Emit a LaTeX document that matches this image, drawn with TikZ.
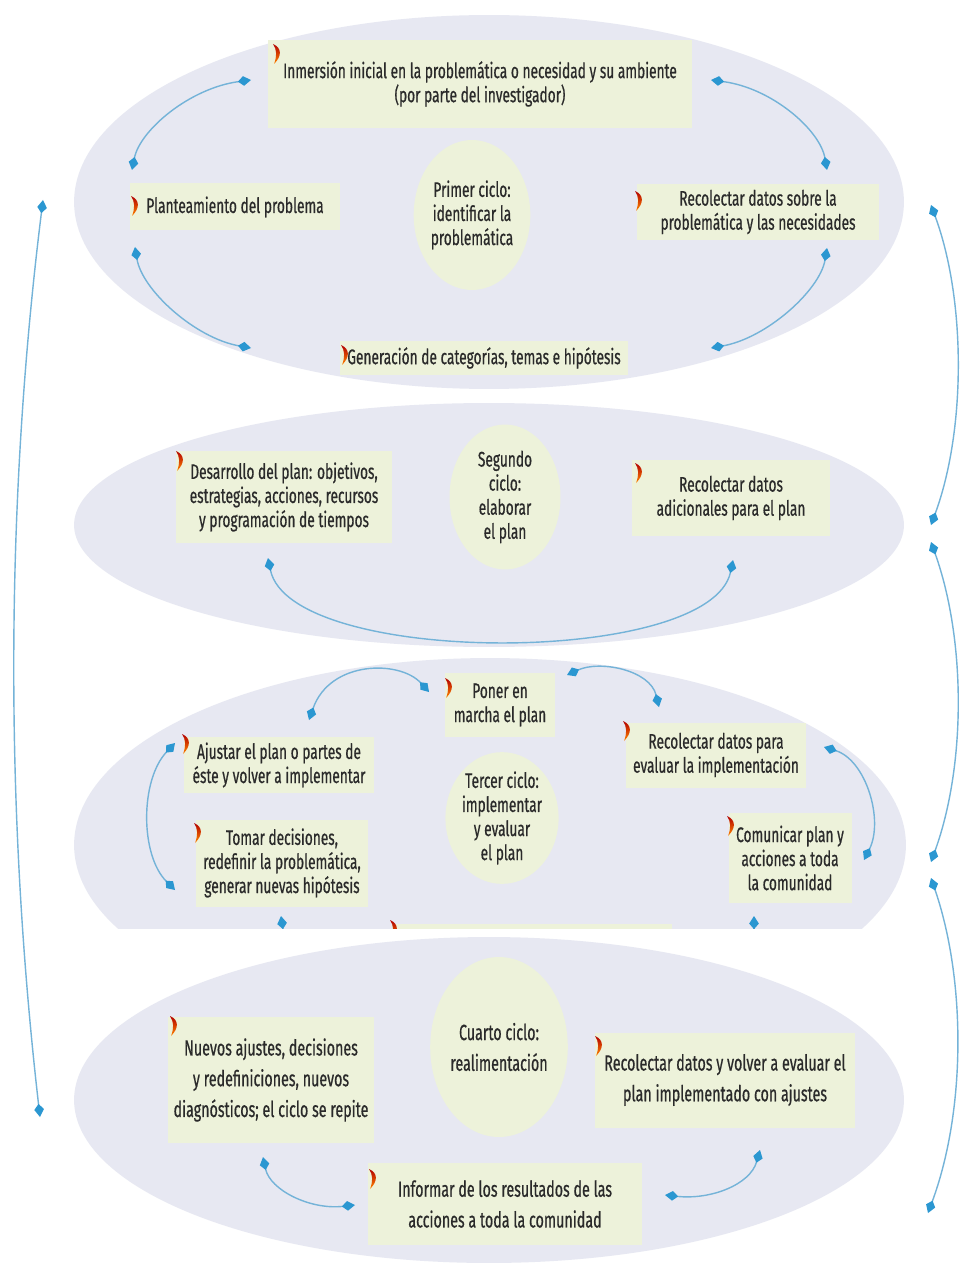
\documentclass[tikz,border=0pt]{standalone}
\usepackage{fontspec}
\setmainfont{Fira Sans}[FakeStretch=0.65,FakeBold=0.6]
\usetikzlibrary{arrows.meta,shapes.geometric}

\definecolor{cyclebg}{HTML}{E7E8F2}
\definecolor{boxbg}{HTML}{EDF2DA}
\definecolor{linkline}{HTML}{74B3D8}
\definecolor{linktip}{HTML}{2B97D1}
\definecolor{txt}{HTML}{2A2A2A}

\tikzset{
	ring/.style={ellipse,fill=cyclebg,inner sep=0pt},
	stage/.style={fill=boxbg,text=txt,align=center,inner sep=0pt,font=\fontsize{12}{13.7}\selectfont},
	stagebig/.style={stage,font=\fontsize{12.5}{17.5}\selectfont},
	hub/.style={stage,ellipse},
	hubbig/.style={stagebig,ellipse},
	tipk/.tip={Kite[length=7.5pt,width=5.5pt,inset=3.2pt,color=linktip]},
	link/.style={draw=linkline,line width=0.8pt,tipk-tipk},
	linkend/.style={draw=linkline,line width=0.8pt,-tipk},
	swoosh/.pic={
		\shade[top color=red!70!black,bottom color=orange!95!yellow]
			(0,0) .. controls (9,4) and (9,12) .. (1,20) .. controls (4,12) and (4,6) .. (0,0);
	},
}

\begin{document}
\begin{tikzpicture}[x=0.02cm,y=-0.02cm]
	\path[fill=white,use as bounding box] (0,0) rectangle (961,1266);
	%
	% the four cycles
	\node[ring,minimum width=16.6cm,minimum height=7.48cm] (c1) at (489,202) {};
	\node[ring,minimum width=16.6cm,minimum height=4.88cm] (c2) at (489,525) {};
	\begin{scope}
		\clip (0,0) rectangle (961,928);
		\node[ring,minimum width=16.64cm,minimum height=7.48cm] (c3) at (490,845) {};
		\node[stage,minimum width=5.6cm,minimum height=1.04cm] (cut) at (532,950) {};
		\pic at (390,920) {swoosh};
		\coordinate (s1a) at (286,950);
		\coordinate (s1b) at (281,916);
		\coordinate (s2a) at (754,950);
		\coordinate (s2b) at (754,916);
		\draw[linkend] (s1a) -- (s1b);
		\draw[linkend] (s2a) -- (s2b);
	\end{scope}
	\node[ring,minimum width=16.6cm,minimum height=6.52cm] (c4) at (489,1100) {};
	%
	% first cycle
	\node[stage,minimum width=8.5cm,minimum height=1.76cm] (inm) at (480,84)
		{Inmersión inicial en la problemática o necesidad y su ambiente\\(por parte del investigador)};
	\node[stage,minimum width=4.22cm,minimum height=0.94cm] (plan) at (235,207)
		{Planteamiento del problema};
	\node[stage,minimum width=4.84cm,minimum height=1.14cm] (rec1) at (758,212)
		{Recolectar datos sobre la\\problemática y las necesidades};
	\node[stage,minimum width=5.76cm,minimum height=0.7cm] (gen) at (484,358)
		{Generación de categorías, temas e hipótesis};
	\node[hub,minimum width=2.24cm,minimum height=3cm] (h1) at (472,215)
		{Primer ciclo:\\identificar la\\problemática};
	%
	% second cycle
	\node[stage,minimum width=4.34cm,minimum height=1.86cm] (des) at (284,497)
		{Desarrollo del plan: objetivos,\\estrategias, acciones, recursos\\y programación de tiempos};
	\node[hub,minimum width=2.22cm,minimum height=2.9cm] (h2) at (505,497)
		{Segundo\\ciclo:\\elaborar\\el plan};
	\node[stage,minimum width=3.98cm,minimum height=1.54cm] (rec2) at (731,498)
		{Recolectar datos\\adicionales para el plan};
	%
	% third cycle
	\node[stage,minimum width=2.22cm,minimum height=1.28cm] (pon) at (500,705)
		{Poner en\\marcha el plan};
	\node[stage,minimum width=3.8cm,minimum height=1.12cm] (aju) at (279,765)
		{Ajustar el plan o partes de\\éste y volver a implementar};
	\node[stage,minimum width=3.44cm,minimum height=1.74cm] (tom) at (282,863)
		{Tomar decisiones,\\redefinir la problemática,\\generar nuevas hipótesis};
	\node[hub,minimum width=2.1cm,minimum height=2.6cm] (h3) at (502,818)
		{Tercer ciclo:\\implementar\\y evaluar\\el plan};
	\node[stage,minimum width=3.62cm,minimum height=1.3cm] (rec3) at (716,755)
		{Recolectar datos para\\evaluar la implementación};
	\node[stage,minimum width=2.46cm,minimum height=1.8cm] (com) at (790,858)
		{Comunicar plan y\\acciones a toda\\la comunidad};
	%
	% fourth cycle
	\node[hubbig,minimum width=2.08cm,minimum height=3.6cm] (h4) at (499,1047)
		{Cuarto ciclo:\\realimentación};
	\node[stagebig,minimum width=4.12cm,minimum height=2.52cm] (nue) at (271,1080)
		{Nuevos ajustes, decisiones\\y redefiniciones, nuevos\\diagnósticos; el ciclo se repite};
	\node[stagebig,minimum width=5.22cm,minimum height=1.9cm] (rec4) at (725,1080)
		{Recolectar datos y volver a evaluar el\\plan implementado con ajustes};
	\node[stagebig,minimum width=5.5cm,minimum height=1.64cm] (inf) at (505,1204)
		{Informar de los resultados de las\\acciones a toda la comunidad};
	%
	% markers
	\foreach \mx/\my in {273/44,131/196,635/191,341/345,176/451,635/463,445/678,182/734,
		194/823,623/721,727/816,170/1016,595/1036,369/1169}
		\pic at (\mx,\my) {swoosh};
	%
	% arrow ends
	\coordinate (a1) at (251,80);
	\coordinate (a2) at (132,170);
	\coordinate (a3) at (135,247);
	\coordinate (a4) at (251,348);
	\coordinate (a5) at (711,80);
	\coordinate (a6) at (827,170);
	\coordinate (a7) at (827,248);
	\coordinate (a8) at (711,348);
	\coordinate (b1) at (268,558);
	\coordinate (b2) at (733,560);
	\coordinate (d1) at (429,692);
	\coordinate (d2) at (309,720);
	\coordinate (d3) at (567,675);
	\coordinate (d4) at (659,707);
	\coordinate (d5) at (175,743);
	\coordinate (d6) at (175,890);
	\coordinate (d7) at (824,747);
	\coordinate (d8) at (864,860);
	\coordinate (e1) at (263,1157);
	\coordinate (e2) at (355,1205);
	\coordinate (e3) at (760,1150);
	\coordinate (e4) at (665,1195);
	\coordinate (o1) at (43,200);
	\coordinate (o2) at (40,1117);
	\coordinate (o3) at (931,205);
	\coordinate (o4) at (931,525);
	\coordinate (o5) at (931,542);
	\coordinate (o6) at (931,862);
	\coordinate (o7) at (931,878);
	\coordinate (o8) at (928,1213);
	%
	\draw[link] (a1) .. controls (190,88) and (140,130) .. (a2);
	\draw[link] (a3) .. controls (142,290) and (195,338) .. (a4);
	\draw[link] (a5) .. controls (772,88) and (820,130) .. (a6);
	\draw[link] (a7) .. controls (820,290) and (767,338) .. (a8);
	\draw[link] (b1) .. controls (290,667) and (711,667) .. (b2);
	\draw[link] (d1) .. controls (400,660) and (330,660) .. (d2);
	\draw[link] (d3) .. controls (600,660) and (650,670) .. (d4);
	\draw[link] (d5) .. controls (140,780) and (140,855) .. (d6);
	\draw[link] (d7) .. controls (866,760) and (884,820) .. (d8);
	\draw[link] (e1) .. controls (270,1190) and (310,1210) .. (e2);
	\draw[link] (e3) .. controls (750,1185) and (710,1200) .. (e4);
	\draw[link] (o1) .. controls (5,505) and (5,812) .. (o2);
	\draw[link] (o3) .. controls (966,300) and (966,430) .. (o4);
	\draw[link] (o5) .. controls (966,640) and (966,765) .. (o6);
	\draw[link] (o7) .. controls (966,980) and (966,1110) .. (o8);
\end{tikzpicture}
\end{document}
